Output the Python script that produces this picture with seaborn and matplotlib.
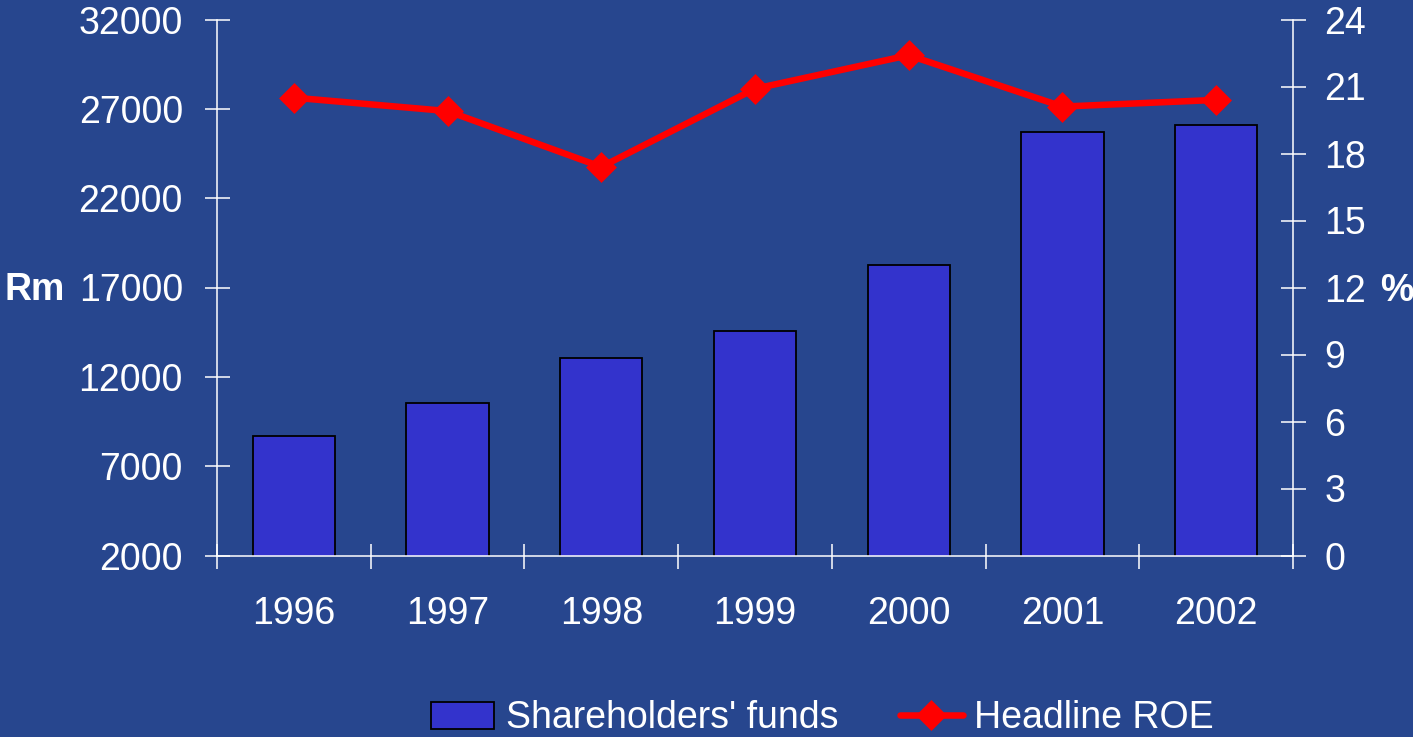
import numpy as np
import matplotlib
matplotlib.use("Agg")
import matplotlib.pyplot as plt
import seaborn as sns

years = ['1996', '1997', '1998', '1999', '2000', '2001', '2002']
funds = [8700, 10560, 13050, 14580, 18280, 25690, 26120]
roe = [20.5, 19.9, 17.4, 20.9, 22.4, 20.1, 20.4]
left_ticks = [2000, 7000, 12000, 17000, 22000, 27000, 32000]
right_ticks = [0, 3, 6, 9, 12, 15, 18, 21, 24]
series_names = ["Shareholders' funds", "Headline ROE"]

BG = '#27468E'
BAR = '#3333CC'
RED = '#FF0000'
FS = 27

sns.set_style('ticks')
plt.rcParams['font.family'] = ['Liberation Sans', 'DejaVu Sans']

W, H = 1413, 737
fig = plt.figure(figsize=(W / 100, H / 100), dpi=100, facecolor=BG)
ax = fig.add_axes([217 / W, 1 - 555.5 / H, (1293 - 217) / W, (555.5 - 19.5) / H])
ax.set_facecolor(BG)

sns.barplot(x=years, y=funds, color=BAR, saturation=1, width=0.535,
            edgecolor='black', linewidth=1.3, ax=ax)

ax2 = ax.twinx()
sns.pointplot(x=years, y=roe, ax=ax2, color=RED, markers='D',
              markersize=12.5, linewidth=4.7)

ax.set_xlim(-0.5, 6.5)
ax.set_ylim(2000, 32000)
ax.set_yticks(left_ticks)
ax.set_xticks(range(len(years)))
ax.set_xticklabels(years)
ax.set_xticks(np.arange(-0.5, len(years), 1), minor=True)
ax2.set_ylim(0, 24)
ax2.set_yticks(right_ticks)
for a in (ax, ax2):
    a.set_xlabel('')
    a.set_ylabel('')

ax.tick_params(axis='x', which='major', length=0, pad=29, labelsize=FS, labelcolor='white')
ax.tick_params(axis='x', which='minor', length=18, width=1.1, direction='inout', color='white')
ax.tick_params(axis='y', length=18, width=1.1, direction='inout', pad=15.5,
               labelsize=FS, labelcolor='white', color='white')
ax2.tick_params(axis='y', length=18, width=1.1, direction='inout', pad=13.5,
                labelsize=FS, labelcolor='white', color='white')

for s in ['top', 'right']:
    ax.spines[s].set_visible(False)
for s in ['left', 'bottom']:
    ax.spines[s].set_color('white')
    ax.spines[s].set_linewidth(1.1)
for s in ['top', 'left', 'bottom']:
    ax2.spines[s].set_visible(False)
ax2.spines['right'].set_color('white')
ax2.spines['right'].set_linewidth(1.1)

fig.text(35 / W, 1 - 300 / H, 'Rm', ha='center', va='baseline', fontsize=FS,
         fontweight='bold', color='white')
fig.text(1380 / W, 1 - 300.7 / H, '%', ha='left', va='baseline', fontsize=FS,
         fontweight='bold', color='white')

fig.legend(handles=[ax.patches[0], ax2.lines[0]], labels=series_names,
           loc='center', bbox_to_anchor=(822.5 / W, 1 - 718.5 / H), ncol=2,
           frameon=False, fontsize=FS, handlelength=1.67, handletextpad=0.32,
           columnspacing=1.65, labelcolor='white', borderpad=0, borderaxespad=0)

fig.savefig('out.png', dpi=100, facecolor=BG)
